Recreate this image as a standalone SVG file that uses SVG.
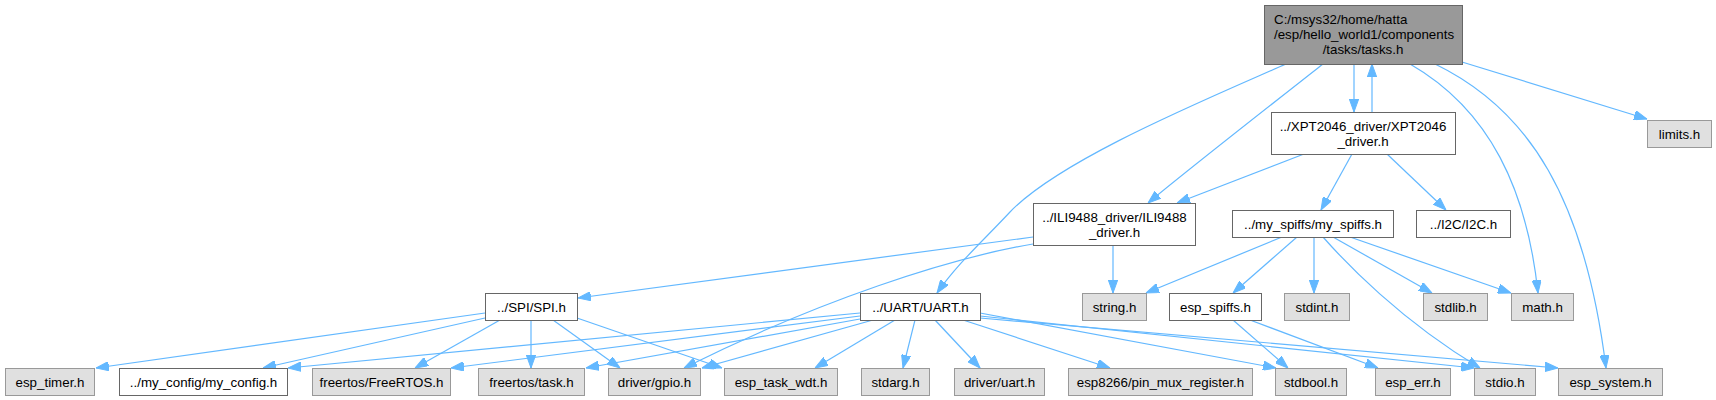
<svg xmlns="http://www.w3.org/2000/svg" width="1716" height="400" viewBox="0 0 1716 400">
<style>
text{font-family:"Liberation Sans",Arial,sans-serif;font-size:13.33px;fill:#000;text-anchor:middle}
.g rect{fill:#e0e0e0;stroke:#999999;stroke-width:1}
.w rect{fill:#ffffff;stroke:#666666;stroke-width:1}
.t rect{fill:#999999;stroke:#666666;stroke-width:1}
#edges path{fill:none;stroke:#63b8ff;stroke-width:1.2;marker-end:url(#arr)}
</style>
<defs>
<marker id="arr" viewBox="0 0 13 9.4" refX="13" refY="4.7" markerWidth="13" markerHeight="9.4" markerUnits="userSpaceOnUse" orient="auto">
<path d="M0,0 L13,4.7 L0,9.4 z" fill="#63b8ff" stroke="#63b8ff" stroke-width="1"/>
</marker>
</defs>
<rect width="1716" height="400" fill="#ffffff"/>
<g id="edges">
<path d="M1286,64 C1200,102 1060,160 1010,212 C982,242 958,263 937,293"/>
<path d="M1323,64 C1290,90 1190,168 1148,203"/>
<path d="M1354,64 L1354,112"/>
<path d="M1372,112 L1372,64"/>
<path d="M1410,64 C1490,110 1527,190 1538,293"/>
<path d="M1435,64 C1530,110 1585,200 1606,368"/>
<path d="M1462,62 L1647,119"/>
<path d="M1304,154 L1177,203"/>
<path d="M1352,154 L1321,210"/>
<path d="M1387,154 L1446,210"/>
<path d="M1033,237 L578,298"/>
<path d="M1033,244 C950,258 820,300 684,368"/>
<path d="M1113,245 L1113,293"/>
<path d="M1282,237 L1146,293"/>
<path d="M1297,237 L1233,293"/>
<path d="M1314,237 L1314,293"/>
<path d="M1323,237 C1345,262 1400,320 1480,368"/>
<path d="M1333,237 L1432,293"/>
<path d="M1350,237 L1511,293"/>
<path d="M1233,320 L1288,368"/>
<path d="M1250,320 L1378,368"/>
<path d="M485,313 L96,368"/>
<path d="M485,318 L263,368"/>
<path d="M500,320 L415,368"/>
<path d="M531,320 L531,368"/>
<path d="M553,320 L620,368"/>
<path d="M577,318 L722,368"/>
<path d="M860,313 L288,368"/>
<path d="M860,316 L451,368"/>
<path d="M860,319 L586,368"/>
<path d="M873,320 L702,368"/>
<path d="M895,320 L815,368"/>
<path d="M915,320 L903,368"/>
<path d="M935,320 L980,368"/>
<path d="M963,320 L1110,368"/>
<path d="M980,313 L1276,368"/>
<path d="M980,316 L1474,368"/>
<path d="M980,318 L1558,368"/>
</g>
<g id="n_tasks" class="t"><rect x="1264.5" y="5.5" width="198" height="59"/>
<text x="1274" y="24.2" style="text-anchor:start">C:/msys32/home/hatta</text>
<text x="1274" y="39.2" style="text-anchor:start">/esp/hello_world1/components</text>
<text x="1363" y="54.2">/tasks/tasks.h</text></g>
<g id="n_xpt" class="w"><rect x="1271.5" y="112.5" width="184" height="42"/>
<text x="1363" y="130.5">../XPT2046_driver/XPT2046</text><text x="1363" y="145.5">_driver.h</text></g>
<g id="n_limits" class="g"><rect x="1647.5" y="120.5" width="64" height="27"/><text x="1679.5" y="138.7">limits.h</text></g>
<g id="n_ili" class="w"><rect x="1033.5" y="203.5" width="162" height="42"/>
<text x="1114.5" y="221.5">../ILI9488_driver/ILI9488</text><text x="1114.5" y="236.5">_driver.h</text></g>
<g id="n_myspiffs" class="w"><rect x="1232.5" y="210.5" width="161" height="27"/><text x="1313" y="228.7">../my_spiffs/my_spiffs.h</text></g>
<g id="n_i2c" class="w"><rect x="1416.5" y="210.5" width="94" height="27"/><text x="1463.5" y="228.7">../I2C/I2C.h</text></g>
<g id="n_spi" class="w"><rect x="485.5" y="293.5" width="92" height="27"/><text x="531.5" y="311.7">../SPI/SPI.h</text></g>
<g id="n_uart" class="w"><rect x="860.5" y="293.5" width="120" height="27"/><text x="920.5" y="311.7">../UART/UART.h</text></g>
<g id="n_string" class="g"><rect x="1082.5" y="293.5" width="64" height="27"/><text x="1114.5" y="311.7">string.h</text></g>
<g id="n_espspiffs" class="w"><rect x="1169.5" y="293.5" width="92" height="27"/><text x="1215.5" y="311.7">esp_spiffs.h</text></g>
<g id="n_stdint" class="g"><rect x="1284.5" y="293.5" width="65" height="27"/><text x="1317" y="311.7">stdint.h</text></g>
<g id="n_stdlib" class="g"><rect x="1423.5" y="293.5" width="64" height="27"/><text x="1455.5" y="311.7">stdlib.h</text></g>
<g id="n_math" class="g"><rect x="1511.5" y="293.5" width="62" height="27"/><text x="1542.5" y="311.7">math.h</text></g>
<g id="n_esptimer" class="g"><rect x="5.5" y="368.5" width="89" height="27"/><text x="50" y="386.7">esp_timer.h</text></g>
<g id="n_myconfig" class="w"><rect x="119.5" y="368.5" width="168" height="27"/><text x="203.5" y="386.7">../my_config/my_config.h</text></g>
<g id="n_freertos" class="g"><rect x="312.5" y="368.5" width="138" height="27"/><text x="381.5" y="386.7">freertos/FreeRTOS.h</text></g>
<g id="n_task" class="g"><rect x="478.5" y="368.5" width="106" height="27"/><text x="531.5" y="386.7">freertos/task.h</text></g>
<g id="n_gpio" class="g"><rect x="608.5" y="368.5" width="92" height="27"/><text x="654.5" y="386.7">driver/gpio.h</text></g>
<g id="n_wdt" class="g"><rect x="724.5" y="368.5" width="113" height="27"/><text x="781" y="386.7">esp_task_wdt.h</text></g>
<g id="n_stdarg" class="g"><rect x="861.5" y="368.5" width="68" height="27"/><text x="895.5" y="386.7">stdarg.h</text></g>
<g id="n_uartdrv" class="g"><rect x="954.5" y="368.5" width="90" height="27"/><text x="999.5" y="386.7">driver/uart.h</text></g>
<g id="n_pinmux" class="g"><rect x="1068.5" y="368.5" width="184" height="27"/><text x="1160.5" y="386.7">esp8266/pin_mux_register.h</text></g>
<g id="n_stdbool" class="g"><rect x="1275.5" y="368.5" width="71" height="27"/><text x="1311" y="386.7">stdbool.h</text></g>
<g id="n_esperr" class="g"><rect x="1375.5" y="368.5" width="75" height="27"/><text x="1413" y="386.7">esp_err.h</text></g>
<g id="n_stdio" class="g"><rect x="1474.5" y="368.5" width="61" height="27"/><text x="1505" y="386.7">stdio.h</text></g>
<g id="n_espsystem" class="g"><rect x="1558.5" y="368.5" width="104" height="27"/><text x="1610.5" y="386.7">esp_system.h</text></g>
</svg>
